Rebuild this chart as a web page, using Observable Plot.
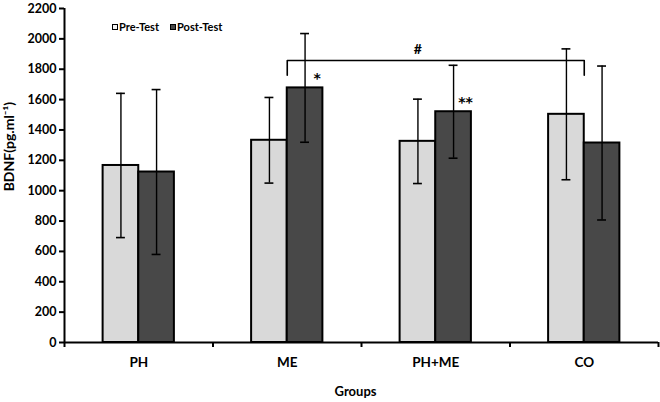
<!DOCTYPE html>
<html>
<head>
<meta charset="utf-8">
<script src="https://cdn.jsdelivr.net/npm/d3@7"></script>
<script src="https://cdn.jsdelivr.net/npm/@observablehq/plot@0.6"></script>
<style>
  html, body { margin: 0; padding: 0; background: #fff; }
  #wrap { position: relative; width: 660px; height: 402px; font-family: Lato, "Open Sans", sans-serif; }
  #legend { position: absolute; left: 112px; top: 20px; font-size: 11px; font-weight: bold; display: flex; gap: 11px; color: #000; }
  #legend .item { display: flex; align-items: center; gap: 1px; }
  #legend .sw { width: 4px; height: 4px; border: 1.6px solid #000; display: inline-block; }
</style>
</head>
<body>
<div id="wrap"><div id="legend"></div></div>
<script>
// ---- data ----
const groups = ["PH", "ME", "PH+ME", "CO"];
const series = ["Pre-Test", "Post-Test"];
const preMean = [1166, 1332, 1325, 1503];
const preSD = [475, 282, 278, 431];
const postMean = [1123, 1677, 1520, 1314];
const postSD = [543, 358, 306, 507];
const yTicks = [0, 200, 400, 600, 800, 1000, 1200, 1400, 1600, 1800, 2000, 2200];
const yLabel = "BDNF(pg.ml\u207B\u00B9)";
const xLabel = "Groups";
// significance marks: [group, series, text]
const sigGroups = ["ME", "PH+ME"];
const sigSeries = ["Post-Test", "Post-Test"];
const sigText = ["*", "**"];
// bracket between ME and CO
const bracketGroups = ["ME", "CO"];
const bracketTop = 1857;
const bracketDrop = 1760;
const bracketText = "#";
const bracketTextPos = 1933;

const colors = {"Pre-Test": "#d9d9d9", "Post-Test": "#484848"};

// ---- build table ----
const half = 0.12;
const rows = [];
groups.forEach((g, gi) => {
  [[preMean, preSD], [postMean, postSD]].forEach(([m, s], si) => {
    rows.push({group: g, series: series[si], mean: m[gi], sd: s[gi],
               c: gi + 0.5 + (si === 0 ? -half : half)});
  });
});
const find = (g, s) => rows.find(r => r.group === g && r.series === s);
const sig = sigGroups.map((g, i) => ({...find(g, sigSeries[i]), text: sigText[i]}));
const bx1 = groups.indexOf(bracketGroups[0]) + 0.5;
const bx2 = groups.indexOf(bracketGroups[1]) + 0.5;
const bracket = [
  {x: bx1, y: bracketDrop}, {x: bx1, y: bracketTop},
  {x: bx2, y: bracketTop}, {x: bx2, y: bracketDrop}
];

const chart = Plot.plot({
  width: 660,
  height: 402,
  marginLeft: 64,
  marginRight: 2,
  marginTop: 8,
  marginBottom: 60,
  style: {fontFamily: "Lato, 'Open Sans', sans-serif", fontWeight: "bold", fontSize: "12px", color: "#000", background: "#fff"},
  x: {type: "linear", domain: [0, groups.length], axis: null},
  y: {domain: [0, 2200], axis: null},
  marks: [
    Plot.rect(rows, {x1: d => d.c - half, x2: d => d.c + half, y1: 0, y2: "mean",
      fill: d => colors[d.series], stroke: "#000", strokeWidth: 2}),
    Plot.ruleX(rows, {x: "c", y1: d => d.mean - d.sd, y2: d => d.mean + d.sd, stroke: "#000", strokeWidth: 1.4}),
    Plot.ruleY(rows, {x1: d => d.c - 0.03, x2: d => d.c + 0.03, y: d => d.mean + d.sd, stroke: "#000", strokeWidth: 1.6}),
    Plot.ruleY(rows, {x1: d => d.c - 0.03, x2: d => d.c + 0.03, y: d => d.mean - d.sd, stroke: "#000", strokeWidth: 1.6}),
    Plot.axisY({ticks: yTicks, tickFormat: d => String(d), tickSize: 5, tickPadding: 3, strokeWidth: 2, fontSize: 12.5, label: null}),
    Plot.axisX({ticks: d3.range(groups.length + 1), tickFormat: () => "", tickSize: 5, strokeWidth: 2, label: null}),
    Plot.axisX({ticks: groups.map((g, i) => i + 0.5), tickFormat: d => groups[Math.floor(d)], tickSize: 0, tickPadding: 15, fontSize: 13.5, label: null}),
    Plot.ruleX([0], {stroke: "#000", strokeWidth: 2}),
    Plot.ruleY([0], {stroke: "#000", strokeWidth: 2}),
    Plot.line(bracket, {x: "x", y: "y", stroke: "#000", strokeWidth: 1.6, curve: "linear"}),
    Plot.text([bracketText], {x: () => 2.38, y: () => bracketTextPos, fontSize: 14}),
    Plot.text(sig, {x: "c", y: "mean", text: "text", dx: 12, dy: -9, fontSize: 14, fontFamily: "'DejaVu Sans', sans-serif"}),
    Plot.text([yLabel], {frameAnchor: "left", textAnchor: "middle", y: () => 1290, dx: -55, rotate: -90, fontSize: 14}),
    Plot.text([xLabel], {frameAnchor: "bottom", x: () => 1.96, dy: 53, fontSize: 13})
  ]
});
document.getElementById("wrap").prepend(chart);

const legend = document.getElementById("legend");
series.forEach(s => {
  const item = document.createElement("div");
  item.className = "item";
  const sw = document.createElement("span");
  sw.className = "sw";
  sw.style.background = s === "Pre-Test" ? "#f4f4f4" : "#484848";
  const t = document.createElement("span");
  t.textContent = s;
  item.appendChild(sw); item.appendChild(t);
  legend.appendChild(item);
});
</script>
</body>
</html>
